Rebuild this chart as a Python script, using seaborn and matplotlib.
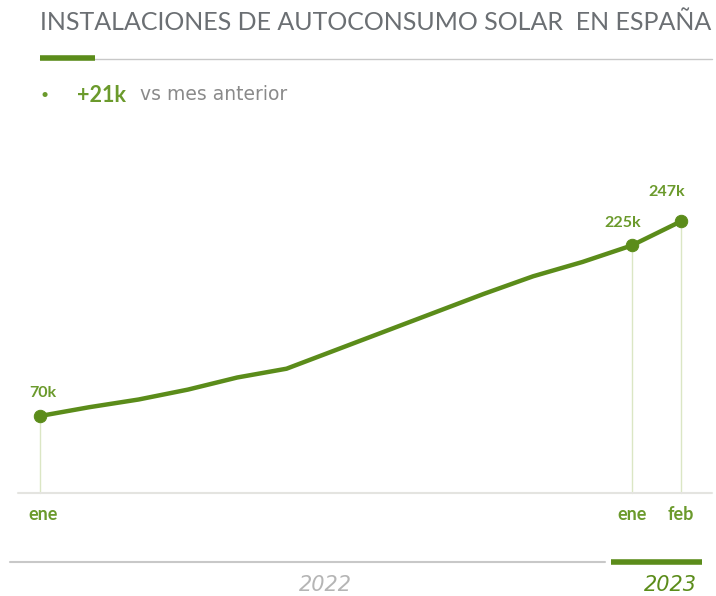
import pandas as pd
import seaborn as sns
import matplotlib.pyplot as plt
from matplotlib.lines import Line2D
import matplotlib.transforms as mtransforms

# monthly installations (thousands), ene 2022 .. feb 2023
months = ["ene", "feb", "mar", "abr", "may", "jun", "jul", "ago", "sep", "oct", "nov", "dic", "ene", "feb"]
values = [70, 78, 85, 94, 105, 113, 130, 147, 164, 181, 197, 210, 225, 247]
marked = [0, 12, 13]
mark_labels = ["70k", "225k", "247k"]
tick_idx = [0, 12, 13]
years = ["2022", "2023"]

GREEN = "#5b8c1a"
LGREEN = "#6b9a2c"
GRAY = "#6b6f73"

sns.set_theme(style="white")
plt.rcParams['font.family'] = ['Lato', 'DejaVu Sans']

df = pd.DataFrame({"idx": range(len(values)), "value": values, "month": months})

fig = plt.figure(figsize=(7.16, 5.96), dpi=100)
ax = fig.add_axes([0, 0, 1, 1])

pxm = 641 / 13
ax.set_xlim(-40 / pxm, (716 - 40) / pxm)
ax.set_ylim(-103 / 1.1, (596 - 103) / 1.1)

# drop lines from marked points
for i in marked:
    ax.plot([i, i], [0, values[i]], color="#dbe6c4", lw=1, zorder=1)

sns.lineplot(data=df, x="idx", y="value", ax=ax, color=GREEN, lw=3.2, zorder=3)
sns.scatterplot(data=df.iloc[marked], x="idx", y="value", ax=ax, color=GREEN,
                s=80, edgecolor=GREEN, zorder=4, legend=False)
ax.set_axis_off()

offsets = [(2, 16.5), (-6.5, 16), (-10, 21)]
for i, lab, (dx, dy) in zip(marked, mark_labels, offsets):
    ax.annotate(lab, (i, values[i]), xytext=(dx, dy), textcoords="offset points",
                ha="center", va="center", color=LGREEN, fontsize=11.5, fontweight="bold")

# baseline
fig.add_artist(Line2D([18 / 716, 712 / 716], [103 / 596, 103 / 596], color="#e4e4e0", lw=1.5))

trans = mtransforms.blended_transform_factory(ax.transData, fig.transFigure)
tick_dx = [0.06, 0.0, 0.0]
for i, dx in zip(tick_idx, tick_dx):
    ax.text(i + dx, 1 - 514 / 596, months[i], transform=trans, ha="center", va="center",
            color=LGREEN, fontsize=13, fontweight="bold")

# year bands
fig.add_artist(Line2D([10 / 716, 605 / 716], [1 - 562 / 596] * 2, color="#c8c8c8", lw=1.5))
fig.add_artist(Line2D([611 / 716, 702 / 716], [1 - 562 / 596] * 2, color=GREEN, lw=4,
                      solid_capstyle="butt"))
fig.text(325 / 716, 1 - 585 / 596, years[0], ha="center", va="center", color="#b5b5b5",
         fontsize=15, fontstyle="italic", family="DejaVu Sans")
fig.text(670 / 716, 1 - 585 / 596, years[1], ha="center", va="center", color=GREEN,
         fontsize=15, fontstyle="italic", family="DejaVu Sans")

# header
fig.text(40 / 716, 1 - 22 / 596, "INSTALACIONES DE AUTOCONSUMO SOLAR  EN ESPAÑA",
         ha="left", va="center", color=GRAY, fontsize=18)
fig.add_artist(Line2D([40 / 716, 712 / 716], [1 - 59 / 596] * 2, color="#c8c8c8", lw=1))
fig.add_artist(Line2D([40 / 716, 95 / 716], [1 - 57.5 / 596] * 2, color=GREEN, lw=4,
                      solid_capstyle="butt"))
fig.text(45 / 716, 1 - 95 / 596, "•", ha="center", va="center", color=LGREEN, fontsize=10)
fig.text(77 / 716, 1 - 95 / 596, "+21k", ha="left", va="center", color=LGREEN,
         fontsize=15.5, fontweight="bold")
fig.text(140 / 716, 1 - 95 / 596, "vs mes anterior", ha="left", va="center", color="#8a8a8a",
         fontsize=13.5, family="DejaVu Sans")

fig.savefig("out.png", dpi=100)
